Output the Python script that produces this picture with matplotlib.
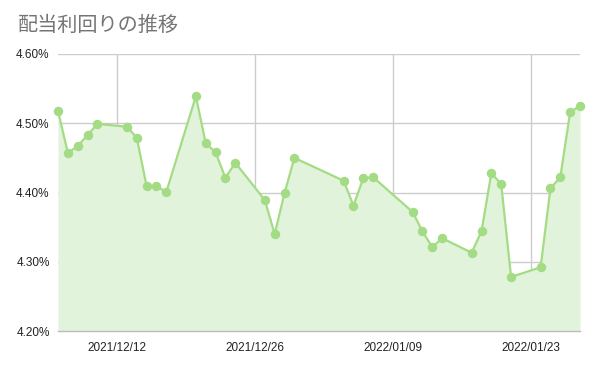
import matplotlib
matplotlib.use("Agg")
import matplotlib.pyplot as plt
import matplotlib.dates as mdates
import pandas as pd

plt.rcParams['font.family'] = ['Liberation Sans', 'Noto Sans CJK JP', 'DejaVu Sans']

dates = ["2021-12-06", "2021-12-07", "2021-12-08", "2021-12-09", "2021-12-10",
         "2021-12-13", "2021-12-14", "2021-12-15", "2021-12-16", "2021-12-17",
         "2021-12-20", "2021-12-21", "2021-12-22", "2021-12-23", "2021-12-24",
         "2021-12-27", "2021-12-28", "2021-12-29", "2021-12-30",
         "2022-01-04", "2022-01-05", "2022-01-06", "2022-01-07",
         "2022-01-11", "2022-01-12", "2022-01-13", "2022-01-14",
         "2022-01-17", "2022-01-18", "2022-01-19", "2022-01-20", "2022-01-21",
         "2022-01-24", "2022-01-25", "2022-01-26", "2022-01-27", "2022-01-28"]
yields = [4.518, 4.457, 4.467, 4.483, 4.499,
          4.495, 4.479, 4.409, 4.409, 4.401,
          4.539, 4.471, 4.458, 4.421, 4.443,
          4.389, 4.340, 4.399, 4.450,
          4.417, 4.381, 4.421, 4.422,
          4.372, 4.344, 4.321, 4.334,
          4.313, 4.344, 4.428, 4.412, 4.278,
          4.292, 4.406, 4.422, 4.516, 4.525]
x_ticks = ["2021-12-12", "2021-12-26", "2022-01-09", "2022-01-23"]
y_ticks = [4.20, 4.30, 4.40, 4.50, 4.60]
title = "配当利回りの推移"

x = pd.to_datetime(dates)
W, H = 596, 367
fig = plt.figure(figsize=(W / 100, H / 100), dpi=100)
ax = fig.add_axes([58 / W, (H - 331) / H, (580 - 58) / W, (331 - 54) / H])

ax.fill_between(x, yields, 4.20, color="#e2f3dc", linewidth=0, zorder=1)
ax.plot(x, yields, color="#a3dc84", linewidth=1.6, marker="o", markersize=6.8,
        markeredgewidth=0, zorder=3, clip_on=False)

ax.set_xlim(x[0], x[-1])
ax.set_ylim(4.20, 4.60)
ax.set_yticks(y_ticks)
ax.set_yticklabels([f"{v:.2f}%" for v in y_ticks])
ax.set_xticks(pd.to_datetime(x_ticks))
ax.xaxis.set_major_formatter(mdates.DateFormatter("%Y/%m/%d"))

ax.grid(True, color="#cccccc", linewidth=1, zorder=0)
ax.set_axisbelow(True)
for s in ["top", "right", "left"]:
    ax.spines[s].set_visible(False)
ax.spines["bottom"].set_color("#bbbbbb")
ax.spines["bottom"].set_linewidth(1)
ax.tick_params(length=0, labelsize=8.5, colors="#222222", pad=6)
ax.tick_params(axis="x", pad=8)

fig.text(18 / W, 1 - 25 / H, title, fontsize=14.5, color="#757575",
         va="center", ha="left", family=['Noto Sans CJK JP', 'DejaVu Sans'])

fig.savefig("out.png", dpi=100)
